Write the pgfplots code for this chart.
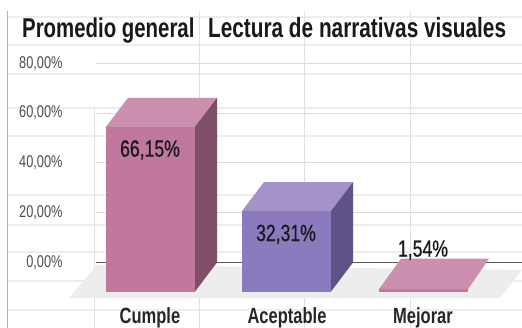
\documentclass[border=0pt]{standalone}
\usepackage{pgfplots}
\pgfplotsset{compat=1.18}
\usepackage{fontspec}
\setmainfont{Liberation Sans}[FakeStretch=0.75]
\newfontfamily\lblfont{Liberation Sans}[FakeStretch=0.75,FakeBold=0.5]
\definecolor{bgl}{HTML}{EDEDED}
\definecolor{pinktop}{HTML}{CC8FAF}
\definecolor{pinkside}{HTML}{7F4F69}
\definecolor{pinkfront}{HTML}{C0789E}
\definecolor{violtop}{HTML}{A592CB}
\definecolor{violside}{HTML}{5F5287}
\definecolor{violfront}{HTML}{8B7ABE}
\begin{document}
\begin{tikzpicture}[x=1pt,y=1pt]
\useasboundingbox (0,0) rectangle (522,328);
\fill[white] (0,0) rectangle (522,328);
% background sheet grid, in picture pixels
\begin{axis}[at={(0,0)},anchor=south west,scale only axis,width=522pt,height=328pt,
  xmin=0,xmax=522,ymin=0,ymax=328,y dir=reverse,hide axis,clip=false]
\foreach \yy in {17,45,74,108,136,195,225,252,281,310}{
  \edef\temp{\noexpand\addplot[bgl,line width=1.4pt,forget plot] coordinates {(7,\yy) (522,\yy)};}\temp
}
\addplot[black!30,line width=1pt,forget plot] coordinates {(7,11) (7,328)};
\addplot[black!12,line width=.8pt,forget plot] coordinates {(94.5,108) (94.5,328)};
\addplot[black!12,line width=.8pt,forget plot] coordinates {(199.5,11) (199.5,328)};
\addplot[black!12,line width=.8pt,forget plot] coordinates {(304,11) (304,328)};
\addplot[black!12,line width=.8pt,forget plot] coordinates {(410,11) (410,328)};
\node[anchor=base west,font=\fontsize{27.2}{29}\selectfont\bfseries,text=black!90,inner sep=0pt] at (axis cs:22,38) {Promedio general};
\node[anchor=base west,font=\fontsize{27.7}{29}\selectfont\bfseries,text=black!90,inner sep=0pt] at (axis cs:208,38) {Lectura de narrativas visuales};
\end{axis}
% chart: y in percent
\begin{axis}[at={(96pt,0)},anchor=south west,scale only axis,width=426pt,height=328pt,
  xmin=96,xmax=522,ymin=-26.305,ymax=105.422,clip=false,
  axis line style={draw=none},
  ytick={0,20,40,60,80},yticklabels={{0,00\%},{20,00\%},{40,00\%},{60,00\%},{80,00\%}},
  yticklabel style={font=\fontsize{17}{19}\selectfont,text=black!70,xshift=-30pt},
  xtick={150,287,423},xticklabels={Cumple,Aceptable,Mejorar},
  xticklabel style={font=\fontsize{22}{24}\selectfont\bfseries,text=black!85,anchor=base,yshift=4pt},
  major tick length=0pt,
  ymajorgrids,grid style={black!14,line width=1pt},
  extra y ticks={0},extra y tick labels={},
  extra y tick style={grid style={black!65,line width=.8pt}}]
% floor: depth offset is (-22pt,-29pt) from the back plane to the front
\addplot[fill=bgl,draw=none] coordinates {(97,-1) (522,-3) (500,-14.3) (69,-14.3)} -- cycle;
% Cumple
\addplot[fill=pinktop,draw=none] coordinates {(128,66.15) (217,66.15) (195,54.5) (106,54.5)} -- cycle;
\addplot[fill=pinkside,draw=none] coordinates {(195,54.5) (217,66.15) (217,0) (195,-11.65)} -- cycle;
\addplot[fill=pinkfront,draw=none] coordinates {(106,-11.65) (195,-11.65) (195,54.5) (106,54.5)} -- cycle;
% Aceptable
\addplot[fill=violtop,draw=none] coordinates {(264,32.31) (353,32.31) (331,20.66) (242,20.66)} -- cycle;
\addplot[fill=violside,draw=none] coordinates {(331,20.66) (353,32.31) (353,0) (331,-11.65)} -- cycle;
\addplot[fill=violfront,draw=none] coordinates {(242,-11.65) (331,-11.65) (331,20.66) (242,20.66)} -- cycle;
% Mejorar
\addplot[fill=pinkfront,draw=none] coordinates {(379,-11.65) (468,-11.65) (468,-10.11) (379,-10.11)} -- cycle;
\addplot[fill=pinktop,draw=none] coordinates {(401,1.54) (489,1.54) (468,-10.7) (379,-10.7)} -- cycle;
\node[font=\lblfont\fontsize{23.5}{25}\selectfont,text=black!90] at (axis cs:150,45.2) {66,15\%};
\node[font=\lblfont\fontsize{23.5}{25}\selectfont,text=black!90] at (axis cs:286,11.3) {32,31\%};
\node[font=\lblfont\fontsize{23.5}{25}\selectfont,text=black!90] at (axis cs:423,5) {1,54\%};
\end{axis}
\end{tikzpicture}
\end{document}
